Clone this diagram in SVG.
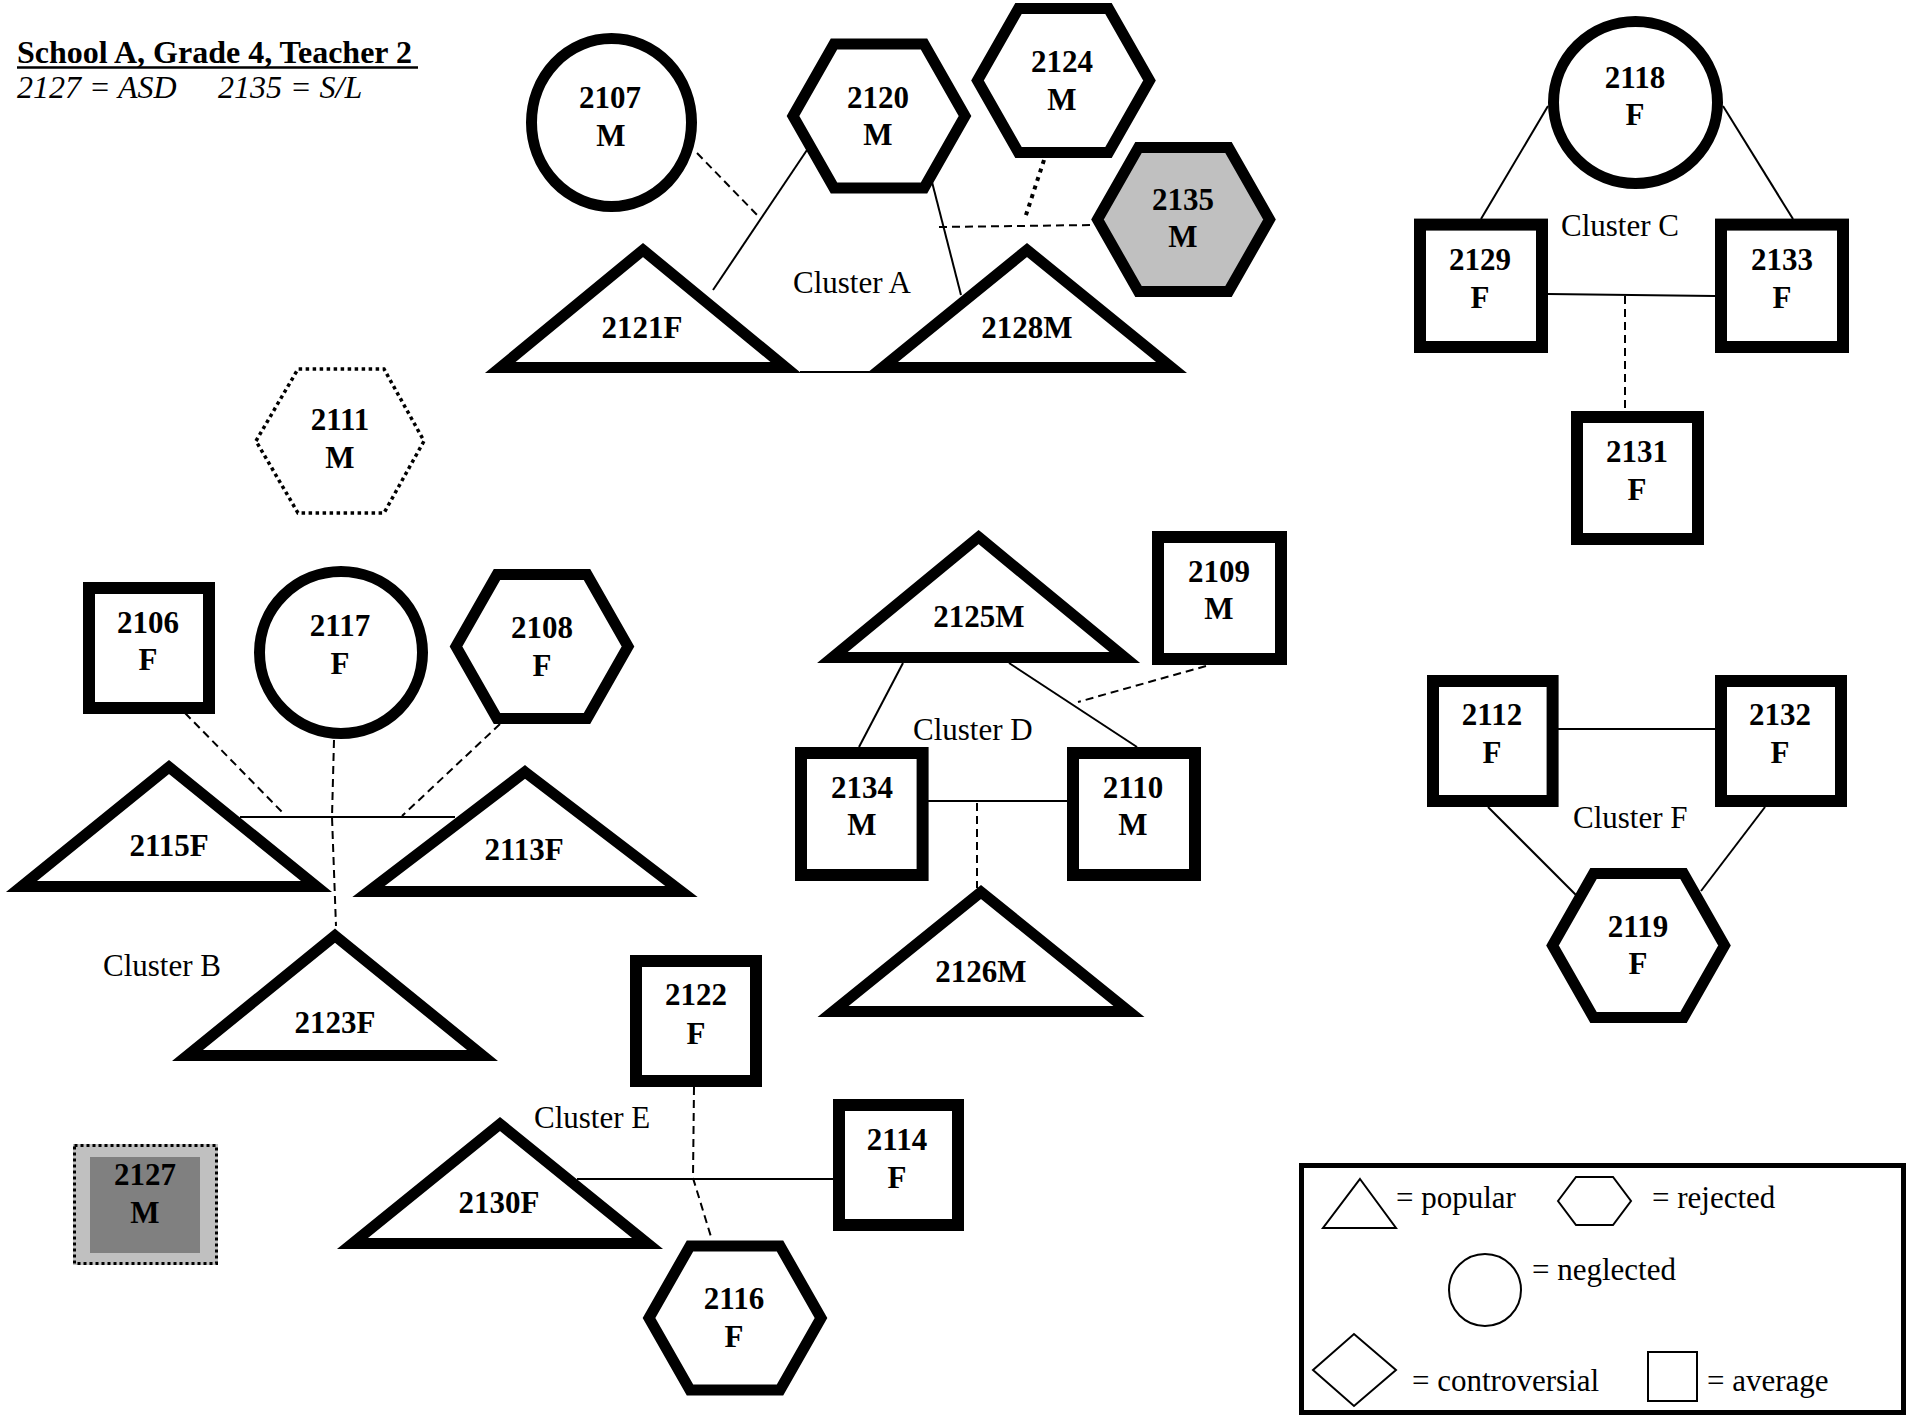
<svg xmlns="http://www.w3.org/2000/svg" xmlns:xlink="http://www.w3.org/1999/xlink" width="1907" height="1421" viewBox="0 0 1907 1421">
<style>
.bg{fill:#fff}
.thick{fill:#fff;stroke:#000;stroke-width:11;stroke-linejoin:miter;stroke-miterlimit:6}
.sq{fill:#fff;stroke:#000;stroke-width:12;stroke-linejoin:miter}
.gray{fill:#c0c0c0}
.dotted{fill:#fff;stroke:#000;stroke-width:3.5;stroke-dasharray:3.5 3.5}
.solid{fill:none;stroke:#000;stroke-width:2}
.dash{fill:none;stroke:#000;stroke-width:2;stroke-dasharray:8 5}
.dot{fill:none;stroke:#000;stroke-width:4;stroke-dasharray:4 5}
.lbl{font-family:"Liberation Serif","Times New Roman",serif;font-weight:bold;font-size:31px;text-anchor:middle;fill:#000}
.cl{font-family:"Liberation Serif","Times New Roman",serif;font-size:31px;fill:#000}
.leg{fill:none;stroke:#000;stroke-width:2}
.title{font-family:"Liberation Serif","Times New Roman",serif;font-weight:bold;font-size:32px;fill:#000}
.sub{font-family:"Liberation Serif","Times New Roman",serif;font-style:italic;font-size:32px;fill:#000}
</style>
<defs>
<polygon id="hex" points="-86,0 -45,-72 45,-72 86,0 45,72 -45,72"/>
</defs>
<rect class="bg" x="0" y="0" width="1907" height="1421"/>

<g id="header">
<text class="title" x="17" y="63">School A, Grade 4, Teacher 2</text>
<line x1="17" y1="67.5" x2="418" y2="67.5" stroke="#000" stroke-width="2.5"/>
<text class="sub" x="17" y="98">2127 = ASD</text>
<text class="sub" x="218" y="98">2135 = S/L</text>
</g>

<g id="connectors">
<!-- Cluster A -->
<line class="solid" x1="713" y1="290" x2="807" y2="150"/>
<line class="solid" x1="932" y1="182" x2="961" y2="295"/>
<line class="solid" x1="800" y1="372" x2="870" y2="372"/>
<line class="dash" x1="697" y1="153" x2="760" y2="218"/>
<line class="dash" x1="939" y1="227" x2="1092" y2="225"/>
<line class="dot" x1="1044" y1="160" x2="1025" y2="218"/>
<!-- Cluster C -->
<line class="solid" x1="1548" y1="106" x2="1481" y2="219"/>
<line class="solid" x1="1723" y1="106" x2="1793" y2="219"/>
<line class="solid" x1="1548" y1="294" x2="1715" y2="296"/>
<line class="dash" x1="1625" y1="296" x2="1625" y2="411"/>
<!-- Cluster B -->
<line class="solid" x1="240" y1="817" x2="455" y2="817"/>
<line class="dash" x1="185" y1="713" x2="282" y2="812"/>
<polyline class="dash" points="334,740 332,817 336,926"/>
<line class="dash" x1="500" y1="724" x2="402" y2="816"/>
<!-- Cluster D -->
<line class="solid" x1="903" y1="663" x2="859" y2="747"/>
<line class="solid" x1="1009" y1="663" x2="1137" y2="747"/>
<line class="dash" x1="1206" y1="666" x2="1078" y2="702"/>
<line class="solid" x1="928" y1="801" x2="1067" y2="801"/>
<line class="dash" x1="977" y1="803" x2="977" y2="888"/>
<!-- Cluster F -->
<line class="solid" x1="1558" y1="729" x2="1715" y2="729"/>
<line class="solid" x1="1488" y1="807" x2="1576" y2="895"/>
<line class="solid" x1="1765" y1="807" x2="1701" y2="891"/>
<!-- Cluster E -->
<line class="solid" x1="577" y1="1179" x2="833" y2="1179"/>
<polyline class="dash" points="694,1087 693,1178 712,1240"/>
</g>

<g id="cluster-labels">
<text class="cl" x="793" y="293">Cluster A</text>
<text class="cl" x="103" y="976">Cluster B</text>
<text class="cl" x="1561" y="236">Cluster C</text>
<text class="cl" x="913" y="740">Cluster D</text>
<text class="cl" x="534" y="1128">Cluster E</text>
<text class="cl" x="1573" y="828">Cluster F</text>
</g>

<!-- Cluster A nodes -->
<g id="n2107"><ellipse class="thick" cx="611.5" cy="122.5" rx="80" ry="84"/><text class="lbl" x="610" y="108">2107</text><text class="lbl" x="611" y="146">M</text></g>
<g id="n2120"><use xlink:href="#hex" href="#hex" class="thick" x="879" y="116"/><text class="lbl" x="878" y="108">2120</text><text class="lbl" x="878" y="145">M</text></g>
<g id="n2124"><use xlink:href="#hex" href="#hex" class="thick" x="1063.5" y="80.5"/><text class="lbl" x="1062" y="72">2124</text><text class="lbl" x="1062" y="110">M</text></g>
<g id="n2135"><use xlink:href="#hex" href="#hex" class="thick gray" x="1183.5" y="219.5"/><text class="lbl" x="1183" y="210">2135</text><text class="lbl" x="1183" y="247">M</text></g>
<g id="n2121"><polygon class="thick" points="643,250 785.7,367.5 500.3,367.5"/><text class="lbl" x="642" y="338">2121F</text></g>
<g id="n2128"><polygon class="thick" points="1027,250 1171.5,367.5 882.5,367.5"/><text class="lbl" x="1027" y="338">2128M</text></g>

<!-- Cluster C nodes -->
<g id="n2118"><ellipse class="thick" cx="1635.5" cy="102.5" rx="82" ry="81"/><text class="lbl" x="1635" y="88">2118</text><text class="lbl" x="1635" y="125">F</text></g>
<g id="n2129"><rect class="sq" x="1420" y="224.6" width="122" height="122.4"/><text class="lbl" x="1480" y="270">2129</text><text class="lbl" x="1480" y="308">F</text></g>
<g id="n2133"><rect class="sq" x="1721" y="224.6" width="122" height="122.4"/><text class="lbl" x="1782" y="270">2133</text><text class="lbl" x="1782" y="308">F</text></g>
<g id="n2131"><rect class="sq" x="1577" y="417" width="121" height="122"/><text class="lbl" x="1637" y="462">2131</text><text class="lbl" x="1637" y="500">F</text></g>

<!-- Isolated -->
<g id="n2111"><polygon class="dotted" points="256,441 298,369 384,369 424,441 384,513 298,513"/><text class="lbl" x="340" y="430">2111</text><text class="lbl" x="340" y="468">M</text></g>
<g id="n2127"><rect x="73" y="1144" width="145" height="121" fill="#c0c0c0"/><rect x="90" y="1157" width="110" height="96" fill="#808080"/><rect x="74.5" y="1145.5" width="142" height="118" fill="none" stroke="#000" stroke-width="3" stroke-dasharray="3 3"/><text class="lbl" x="145" y="1185">2127</text><text class="lbl" x="145" y="1223">M</text></g>

<!-- Cluster B nodes -->
<g id="n2106"><rect class="sq" x="89" y="588" width="120" height="120"/><text class="lbl" x="148" y="633">2106</text><text class="lbl" x="148" y="670">F</text></g>
<g id="n2117"><ellipse class="thick" cx="341" cy="652.5" rx="81.5" ry="81"/><text class="lbl" x="340" y="636">2117</text><text class="lbl" x="340" y="674">F</text></g>
<g id="n2108"><use xlink:href="#hex" href="#hex" class="thick" x="542" y="646.5"/><text class="lbl" x="542" y="638">2108</text><text class="lbl" x="542" y="676">F</text></g>
<g id="n2115"><polygon class="thick" points="169,767 316.5,886.5 21.5,886.5"/><text class="lbl" x="169" y="856">2115F</text></g>
<g id="n2113"><polygon class="thick" points="525,772 681.4,891.5 368.6,891.5"/><text class="lbl" x="524" y="860">2113F</text></g>
<g id="n2123"><polygon class="thick" points="335,935.7 482.5,1055.5 187.5,1055.5"/><text class="lbl" x="335" y="1033">2123F</text></g>

<!-- Cluster D nodes -->
<g id="n2125"><polygon class="thick" points="978.6,537.1 1124.8,657.5 832.4,657.5"/><text class="lbl" x="979" y="627">2125M</text></g>
<g id="n2109"><rect class="sq" x="1158" y="537" width="123" height="122"/><text class="lbl" x="1219" y="582">2109</text><text class="lbl" x="1219" y="619">M</text></g>
<g id="n2134"><rect class="sq" x="801" y="753" width="121.6" height="122"/><text class="lbl" x="862" y="798">2134</text><text class="lbl" x="862" y="835">M</text></g>
<g id="n2110"><rect class="sq" x="1073" y="753" width="122" height="122"/><text class="lbl" x="1133" y="798">2110</text><text class="lbl" x="1133" y="835">M</text></g>
<g id="n2126"><polygon class="thick" points="981,892 1128.9,1011.5 833.1,1011.5"/><text class="lbl" x="981" y="982">2126M</text></g>

<!-- Cluster F nodes -->
<g id="n2112"><rect class="sq" x="1433" y="681" width="119.6" height="120"/><text class="lbl" x="1492" y="725">2112</text><text class="lbl" x="1492" y="763">F</text></g>
<g id="n2132"><rect class="sq" x="1721" y="681" width="120" height="120"/><text class="lbl" x="1780" y="725">2132</text><text class="lbl" x="1780" y="763">F</text></g>
<g id="n2119"><use xlink:href="#hex" href="#hex" class="thick" x="1638.5" y="945.5"/><text class="lbl" x="1638" y="937">2119</text><text class="lbl" x="1638" y="974">F</text></g>

<!-- Cluster E nodes -->
<g id="n2122"><rect class="sq" x="636" y="961" width="120" height="120"/><text class="lbl" x="696" y="1005">2122</text><text class="lbl" x="696" y="1044">F</text></g>
<g id="n2130"><polygon class="thick" points="500,1124 647.5,1243.5 352.5,1243.5"/><text class="lbl" x="499" y="1213">2130F</text></g>
<g id="n2114"><rect class="sq" x="839" y="1105" width="119" height="120"/><text class="lbl" x="897" y="1150">2114</text><text class="lbl" x="897" y="1188">F</text></g>
<g id="n2116"><use xlink:href="#hex" href="#hex" class="thick" x="735" y="1318"/><text class="lbl" x="734" y="1309">2116</text><text class="lbl" x="734" y="1347">F</text></g>

<!-- Legend -->
<g id="legend">
<rect x="1301.5" y="1165.5" width="602" height="247" fill="none" stroke="#000" stroke-width="5"/>
<polygon class="leg" points="1360,1179 1396,1228 1323,1228"/>
<text class="cl" x="1396" y="1208">= popular</text>
<polygon class="leg" points="1558,1201 1576,1177 1613,1177 1631,1201 1613,1225 1576,1225"/>
<text class="cl" x="1652" y="1208">= rejected</text>
<ellipse class="leg" cx="1485" cy="1290" rx="36" ry="36"/>
<text class="cl" x="1532" y="1280">= neglected</text>
<polygon class="leg" points="1313,1370 1354,1334 1396,1370 1354,1406"/>
<text class="cl" x="1412" y="1391">= controversial</text>
<rect class="leg" x="1648" y="1352" width="49" height="49"/>
<text class="cl" x="1707" y="1391">= average</text>
</g>
</svg>
